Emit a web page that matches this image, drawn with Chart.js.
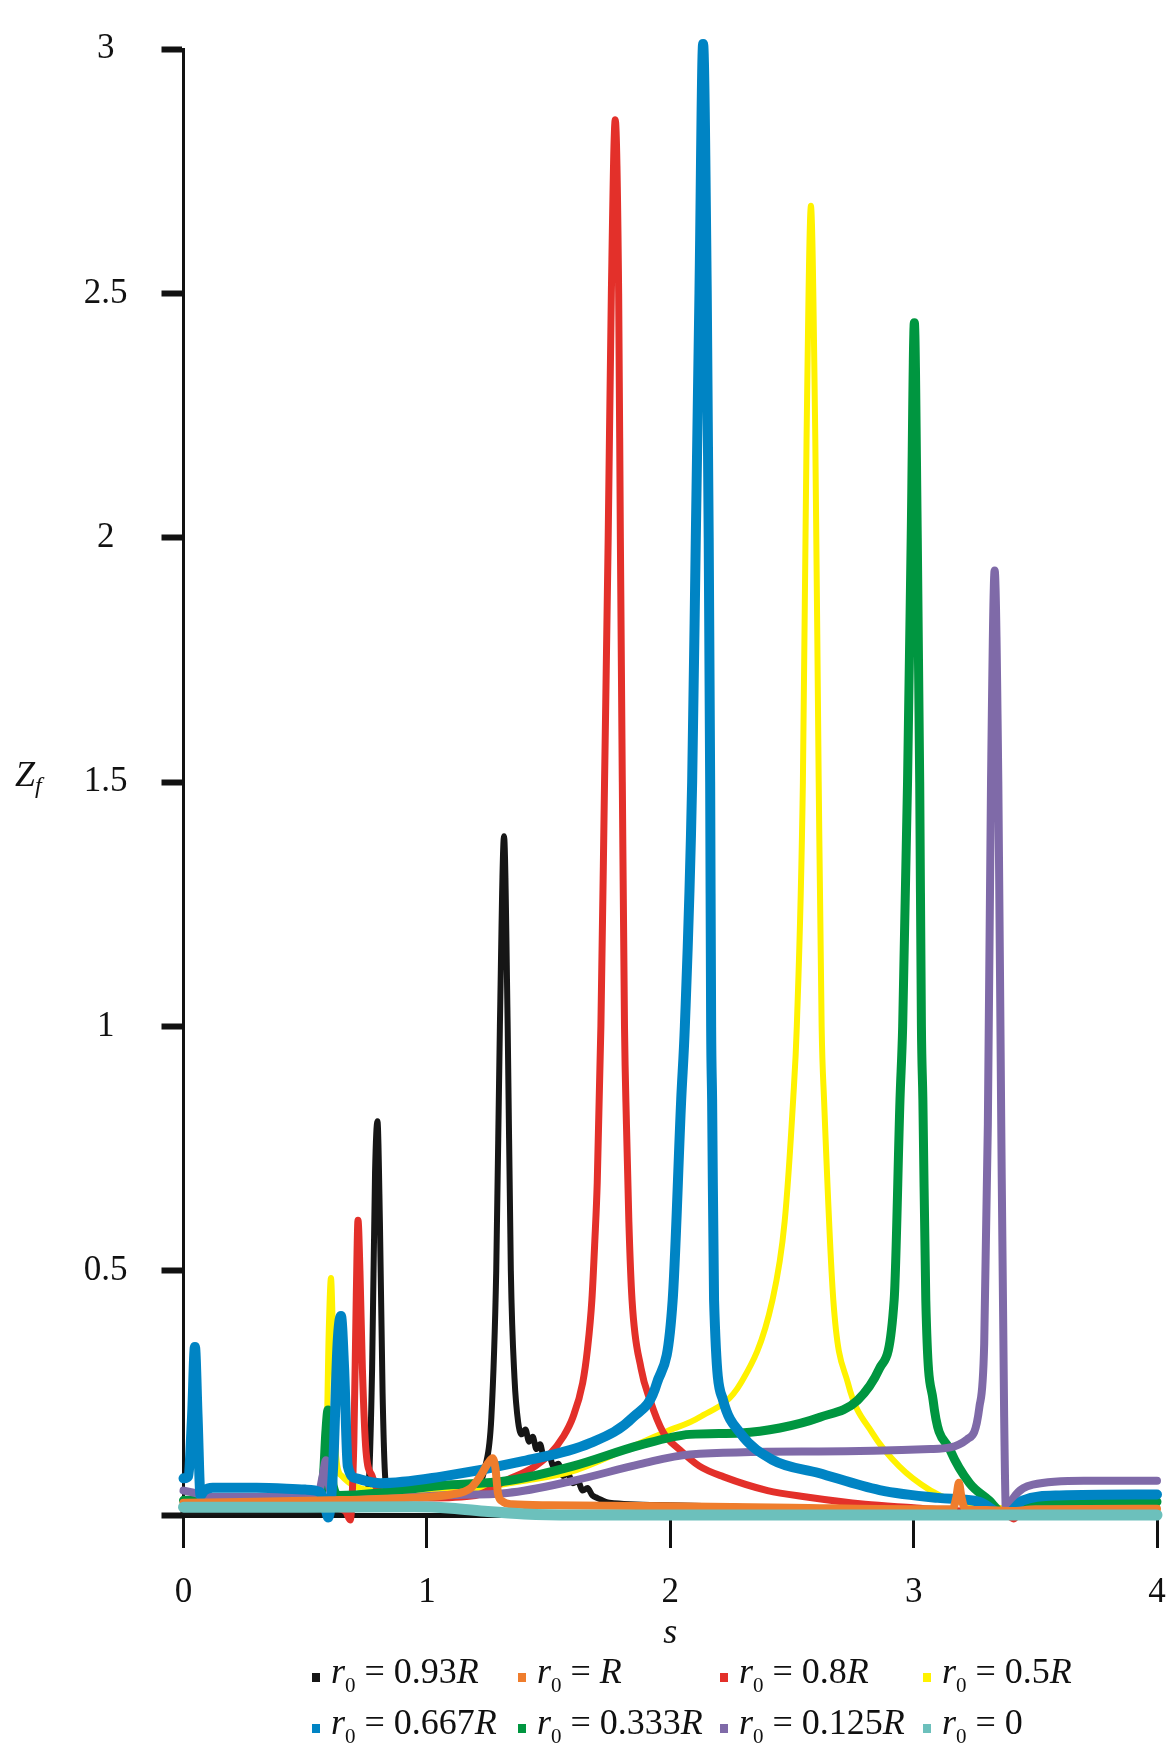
<!DOCTYPE html>
<html>
<head>
<meta charset="utf-8">
<script src="https://cdn.jsdelivr.net/npm/chart.js@4.4.0/dist/chart.umd.min.js"></script>
<style>
    body { margin: 0; background: #fff; }
    .wrap { position: relative; width: 1170px; height: 1744px; }
    canvas { display: block; }
    .zf { position: absolute; left: 15px; top: 752px; font: italic 36px "Liberation Serif", serif; line-height: 44px; color: #111; }
    .zf sub { font-size: 24px; line-height: 0; vertical-align: -7px; }
    .leg { position: absolute; font: 36px "Liberation Serif", serif; line-height: 44px; white-space: nowrap; color: #111; }
    .leg .sw { display: inline-block; width: 8px; height: 9px; margin-right: 11px; vertical-align: 1px; }
    .leg sub { font-size: 21px; line-height: 0; vertical-align: -9px; }
</style>
</head>
<body>
<div class="wrap">
    <canvas id="chart" width="1170" height="1744"></canvas>
    <div class="zf">Z<sub>f</sub></div>
    <div id="legend"></div>
</div>
<script>
// axis ticks
const xTicks = [0, 1, 2, 3, 4];
const xTickLabels = ['0', '1', '2', '3', '4'];
const yTicks = [0, 0.5, 1, 1.5, 2, 2.5, 3];
const yTickLabels = ['', '0.5', '1', '1.5', '2', '2.5', '3'];

// legend values r0 = ...
const r0Labels = ['0.93R', 'R', '0.8R', '0.5R', '0.667R', '0.333R', '0.125R', '0'];

// r0 = 0.93R
const s_093R = [0, 0.3, 0.6, 0.72, 0.76, 0.775, 0.787, 0.797, 0.807, 0.818, 0.83, 0.85, 0.9, 1.0, 1.1, 1.2, 1.24, 1.265, 1.285, 1.3, 1.317, 1.332, 1.345, 1.36, 1.375, 1.39, 1.405, 1.42, 1.435, 1.45, 1.465, 1.48, 1.5, 1.52, 1.54, 1.56, 1.58, 1.6, 1.62, 1.64, 1.66, 1.68, 1.7, 1.75, 2.0, 2.4, 2.8, 3.2, 3.4, 3.6, 4.0];
const zf_093R = [0.005, 0.006, 0.008, 0.015, 0.06, 0.3, 0.7, 0.806, 0.6, 0.25, 0.07, 0.04, 0.04, 0.05, 0.055, 0.06, 0.1, 0.2, 0.5, 1.0, 1.389, 1.0, 0.5, 0.28, 0.19, 0.165, 0.175, 0.15, 0.16, 0.135, 0.145, 0.12, 0.125, 0.1, 0.105, 0.08, 0.085, 0.065, 0.07, 0.05, 0.055, 0.04, 0.035, 0.025, 0.02, 0.015, 0.01, 0.005, 0.002, 0.003, 0.003];

// r0 = R
const s_R = [0, 0.3, 0.6, 0.9, 1.1, 1.18, 1.22, 1.25, 1.27, 1.282, 1.292, 1.31, 1.35, 1.5, 2.0, 2.5, 3.0, 3.16, 3.175, 3.186, 3.197, 3.212, 3.3, 3.4, 3.5, 4.0];
const zf_R = [0.025, 0.027, 0.03, 0.035, 0.042, 0.055, 0.08, 0.105, 0.116, 0.095, 0.045, 0.028, 0.022, 0.02, 0.018, 0.015, 0.012, 0.012, 0.035, 0.066, 0.035, 0.012, 0.01, 0.008, 0.012, 0.013];

// r0 = 0.8R
const s_08R = [0, 0.3, 0.6, 0.665, 0.685, 0.7, 0.71, 0.717, 0.725, 0.735, 0.75, 0.775, 0.8, 1.0, 1.2, 1.33, 1.43, 1.506, 1.56, 1.6, 1.64, 1.66, 1.678, 1.69, 1.70, 1.715, 1.73, 1.745, 1.758, 1.774, 1.788, 1.795, 1.803, 1.812, 1.82, 1.83, 1.843, 1.88, 1.917, 1.97, 2.04, 2.12, 2.22, 2.4, 2.56, 2.8, 3.0, 3.2, 3.38, 3.41, 3.44, 3.6, 4.0];
const zf_08R = [0.015, 0.015, 0.015, 0.008, -0.01, 0.15, 0.45, 0.603, 0.5, 0.3, 0.13, 0.08, 0.05, 0.035, 0.04, 0.072, 0.095, 0.125, 0.16, 0.2, 0.27, 0.34, 0.44, 0.56, 0.68, 1.0, 1.5, 2.0, 2.5, 2.855, 2.5, 2.0, 1.5, 1.0, 0.8, 0.6, 0.44, 0.3, 0.235, 0.17, 0.133, 0.1, 0.078, 0.05, 0.037, 0.022, 0.015, 0.008, 0.003, -0.008, 0.004, 0.005, 0.005];

// r0 = 0.5R
const s_05R = [0, 0.3, 0.55, 0.585, 0.597, 0.606, 0.615, 0.627, 0.65, 0.7, 0.8, 1.0, 1.2, 1.4, 1.6, 1.82, 1.98, 2.12, 2.29, 2.42, 2.47, 2.505, 2.52, 2.545, 2.56, 2.578, 2.596, 2.61, 2.622, 2.632, 2.67, 2.73, 2.83, 2.94, 3.07, 3.16, 3.3, 3.4, 3.6, 4.0];
const zf_05R = [0.02, 0.025, 0.025, 0.1, 0.38, 0.485, 0.35, 0.12, 0.08, 0.06, 0.05, 0.05, 0.055, 0.07, 0.09, 0.135, 0.17, 0.2, 0.27, 0.44, 0.6, 0.85, 1.0, 1.5, 2.2, 2.679, 2.2, 1.5, 1.0, 0.85, 0.44, 0.27, 0.168, 0.1, 0.05, 0.03, 0.02, 0.012, 0.018, 0.018];

// r0 = 0.667R
const s_0667R = [0, 0.02, 0.035, 0.047, 0.058, 0.07, 0.085, 0.12, 0.3, 0.5, 0.56, 0.585, 0.595, 0.615, 0.633, 0.647, 0.66, 0.675, 0.71, 0.81, 1.054, 1.395, 1.67, 1.847, 1.945, 2.01, 2.045, 2.06, 2.09, 2.105, 2.12, 2.135, 2.15, 2.158, 2.164, 2.168, 2.172, 2.18, 2.217, 2.287, 2.42, 2.61, 2.86, 3.1, 3.27, 3.375, 3.45, 3.6, 4.0];
const zf_0667R = [0.075, 0.08, 0.2, 0.344, 0.2, 0.04, 0.05, 0.056, 0.056, 0.052, 0.047, 0.01, -0.005, 0.1, 0.35, 0.407, 0.3, 0.1, 0.075, 0.065, 0.078, 0.11, 0.147, 0.2, 0.27, 0.44, 0.85, 1.0, 1.5, 2.0, 2.5, 3.01, 2.5, 2.0, 1.5, 1.0, 0.85, 0.44, 0.235, 0.168, 0.113, 0.086, 0.051, 0.035, 0.027, 0.0, 0.03, 0.04, 0.042];

// r0 = 0.333R
const s_0333R = [0, 0.3, 0.55, 0.575, 0.585, 0.594, 0.603, 0.615, 0.64, 0.8, 1.05, 1.33, 1.6, 1.876, 2.08, 2.29, 2.45, 2.615, 2.77, 2.86, 2.92, 2.944, 2.955, 2.975, 2.99, 3.003, 3.015, 3.025, 3.032, 3.038, 3.05, 3.08, 3.15, 3.23, 3.31, 3.375, 3.45, 3.6, 4.0];
const zf_0333R = [0.03, 0.03, 0.03, 0.08, 0.17, 0.215, 0.17, 0.06, 0.04, 0.045, 0.06, 0.07, 0.1, 0.143, 0.165, 0.168, 0.178, 0.2, 0.235, 0.3, 0.44, 0.85, 1.0, 1.5, 2.0, 2.44, 2.0, 1.5, 1.0, 0.85, 0.44, 0.235, 0.133, 0.065, 0.03, 0.0, 0.02, 0.027, 0.027];

// r0 = 0.125R
const s_0125R = [0, 0.05, 0.1, 0.3, 0.55, 0.572, 0.585, 0.598, 0.62, 0.8, 1.05, 1.33, 1.6, 1.876, 2.08, 2.61, 3.07, 3.22, 3.27, 3.29, 3.305, 3.318, 3.333, 3.348, 3.36, 3.372, 3.38, 3.41, 3.49, 3.7, 4.0];
const zf_0125R = [0.05, 0.045, 0.037, 0.037, 0.037, 0.08, 0.112, 0.06, 0.03, 0.032, 0.04, 0.045, 0.07, 0.104, 0.124, 0.13, 0.135, 0.155, 0.22, 0.35, 0.8, 1.5, 1.933, 1.5, 0.8, 0.2, 0.0, 0.035, 0.062, 0.07, 0.07];

// r0 = 0
const s_0 = [0, 0.5, 0.95, 1.1, 1.25, 1.4, 1.6, 2.0, 3.0, 4.0];
const zf_0 = [0.016, 0.016, 0.017, 0.014, 0.007, 0.002, 0.0, 0.0, 0.0, 0.0];

const sValues = [s_093R, s_R, s_08R, s_05R, s_0667R, s_0333R, s_0125R, s_0];
const zfValues = [zf_093R, zf_R, zf_08R, zf_05R, zf_0667R, zf_0333R, zf_0125R, zf_0];

// styles
const colors = ['#161616', '#ef7d2d', '#e3302a', '#fff200', '#0084c4', '#009640', '#7f6aa8', '#6cc0bc'];
const widths = [6, 8, 7, 6, 10, 9, 8, 11];
const drawOrder = [7, 1, 5, 6, 2, 4, 3, 0]; // lower = on top

Chart.defaults.font.family = '"Liberation Serif", "Times New Roman", serif';
Chart.defaults.color = '#111';

const datasets = r0Labels.map((lab, i) => ({
    label: 'r\u2080 = ' + lab,
    data: sValues[i].map((s, k) => ({ x: s, y: zfValues[i][k] })),
    borderColor: colors[i],
    backgroundColor: colors[i],
    borderWidth: widths[i],
    order: drawOrder[i],
    pointRadius: 0,
    cubicInterpolationMode: 'monotone',
    borderJoinStyle: 'round',
    borderCapStyle: 'round',
    fill: false,
    clip: false
}));

// keep the plot box fixed: no extra room for the tick labels
const noLabelPadding = (scale) => {
    scale.paddingLeft = 0;
    scale.paddingRight = 0;
    scale.paddingTop = 0;
    scale.paddingBottom = 0;
};

new Chart(document.getElementById('chart'), {
    type: 'line',
    data: { datasets: datasets },
    options: {
        responsive: false,
        animation: false,
        layout: { padding: { top: 49, right: 13, bottom: 89, left: 0 }, autoPadding: false },
        scales: {
            x: {
                type: 'linear',
                min: 0,
                max: 4,
                afterBuildTicks: (scale) => { scale.ticks = xTicks.map(v => ({ value: v })); },
                afterFit: (scale) => { scale.height = 140; noLabelPadding(scale); },
                ticks: {
                    font: { size: 35 },
                    color: '#111',
                    padding: 24,
                    maxRotation: 0,
                    callback: (v, i) => xTickLabels[i]
                },
                grid: { drawOnChartArea: false, drawTicks: true, tickLength: 33, tickWidth: 3, tickColor: '#111' },
                border: { display: true, color: '#111', width: 5 },
                title: { display: true, text: 's', font: { size: 36, style: 'italic' }, color: '#111', padding: { top: 0, bottom: 0 } }
            },
            y: {
                type: 'linear',
                min: 0,
                max: 3,
                afterBuildTicks: (scale) => { scale.ticks = yTicks.map(v => ({ value: v })); },
                afterFit: (scale) => { scale.width = 183.5; noLabelPadding(scale); },
                ticks: {
                    font: { size: 35 },
                    color: '#111',
                    padding: 34,
                    crossAlign: 'center',
                    callback: (v, i) => yTickLabels[i]
                },
                grid: { drawOnChartArea: false, drawTicks: true, tickLength: 22, tickWidth: 6, tickColor: '#111' },
                border: { display: true, color: '#111', width: 3 }
            }
        },
        plugins: {
            legend: { display: false },
            tooltip: { enabled: false }
        }
    }
});

// legend below the axis, two rows of four
const legCols = [312, 518, 720, 923];
const legRows = [1671, 1722];
let legendHtml = '';
r0Labels.forEach((lab, i) => {
    const left = legCols[i % 4];
    const top = legRows[Math.floor(i / 4)] - 22;
    const val = lab.replace('R', '<i>R</i>');
    legendHtml += `<div class="leg" style="left:${left}px;top:${top}px;"><span class="sw" style="background:${colors[i]}"></span><i>r</i><sub>0</sub> = ${val}</div>`;
});
document.getElementById('legend').innerHTML = legendHtml;
</script>
</body>
</html>
